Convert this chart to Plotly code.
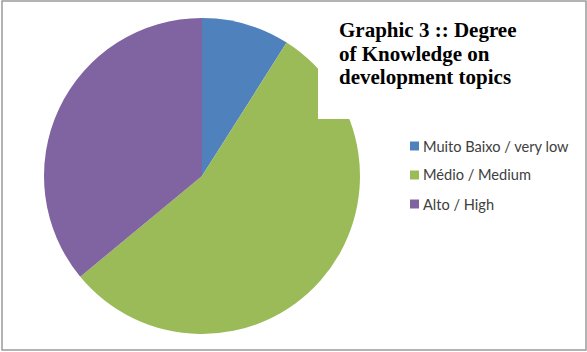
import plotly.graph_objects as go

# Degree of knowledge on development topics (share of respondents, %)
labels = ["Muito Baixo / very low", "Médio / Medium", "Alto / High"]
values = [9, 55, 36]
colors = ["#4F81BD", "#9BBB59", "#8064A2"]
title_lines = ["Graphic 3 :: Degree", "of Knowledge on", "development topics"]

W, H = 587, 352

fig = go.Figure(
    go.Pie(
        labels=labels,
        values=values,
        marker=dict(colors=colors, line=dict(width=0)),
        sort=False,
        direction="clockwise",
        rotation=0,
        textinfo="none",
        hoverinfo="label+percent",
        domain=dict(x=[44 / W, 360 / W], y=[1 - 334 / H, 1 - 18 / H]),
        showlegend=False,
    )
)

shapes = [
    # white panel behind the title
    dict(type="rect", xref="paper", yref="paper", layer="above",
         x0=318 / W, x1=1, y0=1 - 119 / H, y1=1,
         fillcolor="white", line=dict(width=0)),
    # chart frame
    dict(type="rect", xref="paper", yref="paper", layer="above",
         x0=2 / W, x1=1 - 1 / W, y0=2 / H, y1=1 - 1 / H,
         fillcolor="rgba(0,0,0,0)", line=dict(color="#9a9a9a", width=1.5)),
]

annotations = []

# title, one annotation per line for tight line spacing
for i, t in enumerate(title_lines):
    annotations.append(dict(text=f"<b>{t}</b>", xref="paper", yref="paper",
                            x=337 / W, y=1 - (30 + 23.5 * i) / H,
                            xanchor="left", yanchor="middle", showarrow=False,
                            font=dict(family="Liberation Serif", size=21,
                                      color="black")))

# legend entries: colour swatch + label
for i, (lab, col) in enumerate(zip(labels, colors)):
    yc = 146 + 29 * i
    shapes.append(dict(type="rect", xref="paper", yref="paper", layer="above",
                       x0=410 / W, x1=419 / W,
                       y0=1 - (yc + 4.5) / H, y1=1 - (yc - 4.5) / H,
                       fillcolor=col, line=dict(width=0)))
    annotations.append(dict(text=lab, xref="paper", yref="paper",
                            x=421 / W, y=1 - yc / H, xanchor="left",
                            yanchor="middle", showarrow=False,
                            font=dict(family="Lato", size=14.6, color="#404040")))

fig.update_layout(
    width=W, height=H,
    margin=dict(l=0, r=0, t=0, b=0),
    paper_bgcolor="white",
    plot_bgcolor="white",
    shapes=shapes,
    annotations=annotations,
)

fig.write_html("out.html")
